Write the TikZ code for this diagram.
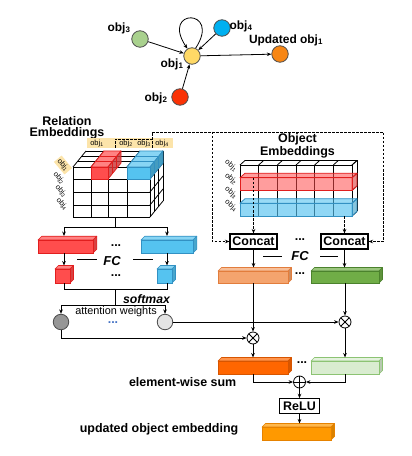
\documentclass[tikz,border=0pt]{standalone}
\usepackage{fontspec}
\setmainfont{Liberation Sans}
\usetikzlibrary{arrows.meta,calc}
\definecolor{cthree}{RGB}{169,209,142}
\definecolor{cfour}{RGB}{0,176,240}
\definecolor{cone}{RGB}{255,217,102}
\definecolor{ctwo}{RGB}{250,50,5}
\definecolor{cupd}{RGB}{247,134,20}
\definecolor{tanbg}{RGB}{252,228,170}
\definecolor{bred}{RGB}{255,77,77}
\definecolor{bredE}{RGB}{225,30,30}
\definecolor{bblue}{RGB}{85,195,240}
\definecolor{bblueE}{RGB}{50,145,195}
\definecolor{borl}{RGB}{244,164,110}
\definecolor{borlE}{RGB}{226,125,60}
\definecolor{bgrn}{RGB}{112,173,71}
\definecolor{bgrnE}{RGB}{75,130,45}
\definecolor{bdor}{RGB}{255,102,0}
\definecolor{bdorE}{RGB}{215,85,0}
\definecolor{blgr}{RGB}{217,236,208}
\definecolor{blgrE}{RGB}{140,195,115}
\definecolor{bfor}{RGB}{255,153,0}
\definecolor{bforE}{RGB}{230,130,0}
\definecolor{dotblue}{RGB}{68,114,196}
\definecolor{agray}{RGB}{150,150,150}
\definecolor{lgray}{RGB}{228,228,228}
% #1 name, #2 xl, #3 yt, #4 xr, #5 yb, #6 depth, #7 fill, #8 edge
\newcommand\prism[8]{%
  \filldraw[fill=#7!70!white, draw=#8, line width=0.6bp, line join=round]
    (#2,#3) -- ++(#6,-#6) -- ({#4+#6},{#3-#6}) -- (#4,#3) -- cycle;
  \filldraw[fill=#7!85!black, draw=#8, line width=0.6bp, line join=round]
    (#4,#3) -- ++(#6,-#6) -- ++(0,{#5-#3}) -- (#4,#5) -- cycle;
  \node[draw=#8, fill=#7, line width=0.6bp, inner sep=0pt, outer sep=0pt,
    minimum width={(#4-#2)*1bp}, minimum height={(#5-#3)*1bp}]
    (#1) at ({(#2+#4)/2},{(#3+#5)/2}) {};
}
\begin{document}
\begin{tikzpicture}[x=1bp,y=-1bp,
  font=\fontsize{12.5}{12.5}\selectfont\bfseries,
  >={Stealth[length=4.5bp,width=3.6bp]},
  line width=0.8bp,
  gnode/.style={circle, draw=black!70, line width=0.8bp, minimum size=16.5bp, inner sep=0pt},
  glbl/.style={font=\fontsize{12}{12}\selectfont\bfseries, inner sep=0pt},
  small/.style={font=\fontsize{7.5}{8}\selectfont\mdseries, inner sep=0.5bp},
  boxnode/.style={draw, fill=white, line width=1.1bp, minimum height=15bp, inner sep=0pt},
  opnode/.style={circle, draw, fill=white, minimum size=12bp, inner sep=0pt},
  attn/.style={circle, draw=black!70, minimum size=15.5bp, inner sep=0pt},
  dsh/.style={dash pattern=on 2.5bp off 1.5bp},
  dotsn/.style={inner sep=0pt},
]
\useasboundingbox (0,0) rectangle (411,456);

% ---------------- top graph ----------------
\node[gnode, fill=cthree] (o3) at (140,39) {};
\node[gnode, fill=cfour] (o4) at (222,28) {};
\node[gnode, fill=cone] (o1) at (192,56) {};
\node[gnode, fill=ctwo] (o2) at (180,97) {};
\node[gnode, fill=cupd] (ou) at (280,54) {};
\node[glbl] (l3) at (119,28) {obj\textsubscript{3}};
\node[glbl] (l4) at (241,26) {obj\textsubscript{4}};
\node[glbl] (l1) at (172,64) {obj\textsubscript{1}};
\node[glbl] (l2) at (156,98) {obj\textsubscript{2}};
\node[glbl] (lu) at (286,40) {Updated obj\textsubscript{1}};
\draw[->] (o3) -- (o1);
\draw[->] (o4) -- (o1);
\draw[->] (o2) -- (o1);
\draw[->] (o1) -- (ou);
\draw[->] (o1.65) .. controls (222,8) and (160,8) .. (o1.122);

% ---------------- relation embeddings ----------------
\node[align=center, font=\fontsize{12.5}{11.5}\selectfont\bfseries] (reltitle) at (67,128) {Relation\\Embeddings};
\fill[tanbg] (87,138) rectangle (173,148.5);
\node[small] (t1) at (97,143.3) {obj\textsubscript{1}};
\node[small] (t2) at (126,143.3) {obj\textsubscript{2}};
\node[small] (t3) at (144,143.3) {obj\textsubscript{3}};
\node[small] (t4) at (162,143.3) {obj\textsubscript{4}};
\node[small, fill=tanbg, rotate=-50, inner sep=1.5bp] (s1) at (63,165) {obj\textsubscript{1}};
\node[small, rotate=-50] (s2) at (59,178) {obj\textsubscript{2}};
\node[small, rotate=-50] (s3) at (61,191) {obj\textsubscript{3}};
\node[small, rotate=-50] (s4) at (62,204) {obj\textsubscript{4}};

% cube
\fill[white] (73,167) -- (86,151) -- (163,151) -- (150,167) -- cycle;
\fill[white] (150,167) -- (163,151) -- (163,201) -- (150,217) -- cycle;
\fill[white] (73,167) rectangle (150,217);
\foreach \x in {73,91,108,127,150} {\draw (\x,167) -- (\x,217); \draw (\x,167) -- ++(13,-16);}
\foreach \y in {167,179,192,205,217} {\draw (73,\y) -- (150,\y); \draw (150,\y) -- ++(13,-16);}
\foreach \k in {1,2,3} {\draw ({73+13*\k/3},{167-16*\k/3}) -- ({150+13*\k/3},{167-16*\k/3}) -- ({150+13*\k/3},{217-16*\k/3});}
% red column
\filldraw[fill=bred!70!white, draw=bredE, line join=round] (91,167) -- ++(13,-16) -- ++(17,0) -- (108,167) -- cycle;
\filldraw[fill=bred!80!black, draw=bredE, fill opacity=0.85, line join=round] (108,167) -- ++(13,-16) -- ++(0,12) -- (108,179) -- cycle;
\filldraw[fill=bred, draw=bredE] (91,167) rectangle (108,179);
\foreach \k in {1,2} {\draw[bredE, line width=0.5bp] ({91+13*\k/3},{167-16*\k/3}) -- ({108+13*\k/3},{167-16*\k/3}) -- ({108+13*\k/3},{179-16*\k/3});}
% blue column
\filldraw[fill=bblue!70!white, draw=bblueE, line join=round] (127,167) -- ++(13,-16) -- ++(23,0) -- (150,167) -- cycle;
\filldraw[fill=bblue!80!black, draw=bblueE, line join=round] (150,167) -- ++(13,-16) -- ++(0,12) -- (150,179) -- cycle;
\filldraw[fill=bblue, draw=bblueE] (127,167) rectangle (150,179);
\foreach \k in {1,2} {\draw[bblueE, line width=0.5bp] ({127+13*\k/3},{167-16*\k/3}) -- ({150+13*\k/3},{167-16*\k/3}) -- ({150+13*\k/3},{179-16*\k/3});}
\coordinate (relcube) at (115,217);

% branches to FC
\coordinate (rj) at (115,227);
\coordinate (rjl) at (64,227);
\coordinate (rjr) at (167,227);
\draw (relcube) -- (rj);
\draw (rjl) -- (rjr);
\prism{rbar}{38}{240}{93}{253}{3.8}{bred}{bredE}
\prism{bbar}{141}{240}{193}{253}{3.8}{bblue}{bblueE}
\draw[->] (rjl) -- ($(rjl |- rbar.north)+(0,-4)$);
\draw[->] (rjr) -- ($(rjr |- bbar.north)+(0,-4)$);
\node[dotsn] (d1) at (116,246) {...};
\node[font=\fontsize{13}{13}\selectfont\bfseries\itshape] (fc1) at (112,261) {FC};
\coordinate (fl1a) at (77,259); \coordinate (fl1b) at (97,259);
\coordinate (fl2a) at (133,259); \coordinate (fl2b) at (153,259);
\draw[line width=0.6bp] (fl1a) -- (fl1b);
\draw[line width=0.6bp] (fl2a) -- (fl2b);
\prism{rsm}{55}{269}{70}{283}{3.5}{bred}{bredE}
\prism{bsm}{157}{269}{172}{283}{3.5}{bblue}{bblueE}
\node[dotsn] (d2) at (116,276) {...};
\draw[->] (rjl |- rbar.south) -- ($(rjl |- rsm.north)+(0,-3.5)$);
\draw[->] (rjr |- bbar.south) -- ($(rjr |- bsm.north)+(0,-3.5)$);
\coordinate (sj) at (115,289);
\coordinate (sjl) at (64,289);
\coordinate (sjr) at (167,289);
\draw (rjl |- rsm.south) -- (sjl) -- (sjr) -- (rjr |- bsm.south);
\coordinate (aj) at (115,305);
\coordinate (ajl) at (61,305);
\coordinate (ajr) at (165,305);
\draw (sj) -- (aj);
\draw (ajl) -- (ajr);
\node[attn, fill=agray] (a1) at (61,322) {};
\node[attn, fill=lgray] (a2) at (165,322) {};
\draw[->] (ajl) -- (a1);
\draw[->] (ajr) -- (a2);
\node[font=\fontsize{12.3}{12.3}\selectfont\bfseries\itshape] (smx) at (146.5,299) {softmax};
\node[font=\fontsize{10.9}{11}\selectfont\mdseries] (aw) at (116,311.5) {attention weights};
\node[dotsn, text=dotblue] (d3) at (113,323) {...};

% ---------------- object embeddings ----------------
\node[align=center, font=\fontsize{12.5}{11.5}\selectfont\bfseries] (objtitle) at (297.5,146) {Object\\Embeddings};
\fill[white] (240,165) -- (245,160.5) -- (357,160.5) -- (352,165) -- cycle;
\fill[white] (352,165) -- (357,160.5) -- (357,211.5) -- (352,216) -- cycle;
\fill[white] (240,165) rectangle (352,216);
\foreach \i in {0,...,6} {\draw ({240+112*\i/6},165) -- ({240+112*\i/6},216); \draw ({240+112*\i/6},165) -- ++(5,-4.5);}
\foreach \y in {165,177.75,190.5,203.25,216} {\draw (240,\y) -- (352,\y); \draw (352,\y) -- ++(5,-4.5);}
\draw (245,160.5) -- (357,160.5) -- (357,211.5);
% overlays
\filldraw[fill=bred, fill opacity=0.55, draw=bredE, line join=round] (240,177.75) -- (245,173.25) -- (357,173.25) -- (352,177.75) -- cycle;
\filldraw[fill=bred!85!black, fill opacity=0.6, draw=bredE, line join=round] (352,177.75) -- (357,173.25) -- (357,186) -- (352,190.5) -- cycle;
\filldraw[fill=bred, fill opacity=0.55, draw=bredE] (240,177.75) rectangle (352,190.5);
\filldraw[fill=bblue, fill opacity=0.6, draw=bblueE, line join=round] (240,203.25) -- (245,198.75) -- (357,198.75) -- (352,203.25) -- cycle;
\filldraw[fill=bblue!85!black, fill opacity=0.65, draw=bblueE, line join=round] (352,203.25) -- (357,198.75) -- (357,211.5) -- (352,216) -- cycle;
\filldraw[fill=bblue, fill opacity=0.65, draw=bblueE] (240,203.25) rectangle (352,216);
\node[small, rotate=-40] (u1) at (231,165.5) {obj\textsubscript{1}};
\node[small, rotate=-40] (u2) at (231,179) {obj\textsubscript{2}};
\node[small, rotate=-40] (u3) at (231,192.5) {obj\textsubscript{3}};
\node[small, rotate=-40] (u4) at (231,205.5) {obj\textsubscript{4}};

% concat
\node[boxnode, minimum width=47bp] (c1) at (253.5,241.5) {Concat};
\node[boxnode, minimum width=47bp] (c2) at (344.5,241.5) {Concat};
\node[dotsn] (d4) at (300,240) {...};
\coordinate (oe1) at (253.5,178);
\coordinate (oe2) at (344.5,216);
\draw[dsh,->] (oe1) -- (c1.north);
\draw[dsh,->] (oe2) -- (c2.north);
% dashed connections from relation labels
\coordinate (sepa) at (115,148);
\coordinate (sepb) at (152,148);
\coordinate (toprow) at (152,132);
\coordinate (topl) at (212,132);
\coordinate (topr) at (383,132);
\draw[dsh] (sepa) -- (115,139) -- (152,139);
\draw[dsh,->] (sepb) -- (toprow) -- (topr) |- (c2.east);
\draw[dsh,->] (topl) |- (c1.west);

% FC right
\node[font=\fontsize{13}{13}\selectfont\bfseries\itshape] (fc2) at (300,256.5) {FC};
\coordinate (fl3a) at (263,256); \coordinate (fl3b) at (282,256);
\coordinate (fl4a) at (320,256); \coordinate (fl4b) at (338,256);
\draw[line width=0.6bp] (fl3a) -- (fl3b);
\draw[line width=0.6bp] (fl4a) -- (fl4b);
\prism{ob1}{218}{271}{288}{283}{3.5}{borl}{borlE}
\prism{gb1}{311}{271}{379}{283}{3.5}{bgrn}{bgrnE}
\node[dotsn] (d5) at (300,274) {...};
\draw[->, shorten >=3.5bp] (c1.south) -- (c1.south |- ob1.north);
\draw[->, shorten >=3.5bp] (c2.south) -- (c2.south |- gb1.north);

% multiply
\node[opnode, path picture={\draw[line width=0.8bp] (path picture bounding box.north west) -- (path picture bounding box.south east) (path picture bounding box.north east) -- (path picture bounding box.south west);}] (m1) at (253,338) {};
\node[opnode, path picture={\draw[line width=0.8bp] (path picture bounding box.north west) -- (path picture bounding box.south east) (path picture bounding box.north east) -- (path picture bounding box.south west);}] (m2) at (345,322) {};
\draw[->] (ob1.south -| m1) -- (m1);
\draw[->] (gb1.south -| m2) -- (m2);
\draw[->] (a2) -- (m2);
\draw[->] (a1.south) |- (m1.west);

\prism{dob}{218}{361}{288}{374}{3.5}{bdor}{bdorE}
\prism{lgb}{311}{361}{379}{374}{3.5}{blgr}{blgrE}
\node[dotsn] (d6) at (302,363) {...};
\draw[->, shorten >=3.5bp] (m1) -- (m1 |- dob.north);
\draw[->, shorten >=3.5bp] (m2) -- (m2 |- lgb.north);

\node[opnode, path picture={\draw[line width=0.8bp] (path picture bounding box.north) -- (path picture bounding box.south) (path picture bounding box.east) -- (path picture bounding box.west);}] (pl) at (299.5,382) {};
\draw[->] (dob.south -| m1) |- (pl.west);
\draw[->] (lgb.south -| m2) |- (pl.east);
\node[anchor=east] (ews) at (240,382) {element-wise sum};
\node[boxnode, minimum width=40bp, minimum height=14.5bp] (relu) at (299.5,406) {ReLU};
\draw[->] (pl) -- (relu);
\prism{fob}{262}{427}{331}{440}{3.5}{bfor}{bforE}
\draw[->, shorten >=3.5bp] (relu.south) -- (relu.south |- fob.north);
\node[anchor=east] (uoe) at (242,429.5) {updated object embedding};
\end{tikzpicture}
\end{document}
